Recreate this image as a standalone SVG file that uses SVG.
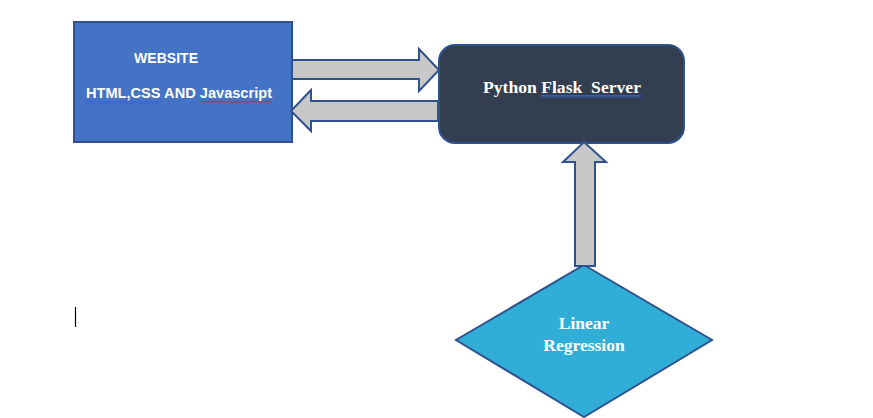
<svg xmlns="http://www.w3.org/2000/svg" width="873" height="418" viewBox="0 0 873 418">
<style>
.arrow{fill:#C8C8C8;stroke:#2F528F;stroke-width:2;stroke-linejoin:miter}
.sans{font-family:"Liberation Sans",Arial,sans-serif;font-weight:bold;fill:#FFFFFF}
.serif{font-family:"Liberation Serif","Times New Roman",serif;font-weight:bold;fill:#FFFFFF}
</style>
<rect width="873" height="418" fill="#FFFFFF"/>
<g id="website">
<rect x="74" y="22" width="218" height="120" fill="#4472C4" stroke="#2F528F" stroke-width="2"/>
<text class="sans" x="166" y="63" font-size="14" text-anchor="middle" textLength="64" lengthAdjust="spacingAndGlyphs">WEBSITE</text>
<text class="sans" x="86" y="98" font-size="15" textLength="186" lengthAdjust="spacingAndGlyphs">HTML,CSS AND Javascript</text>
<line x1="86" y1="101.5" x2="159" y2="101.5" stroke="#3B63D6" stroke-width="0.8"/>
<line x1="86" y1="103" x2="159" y2="103" stroke="#3B63D6" stroke-width="0.8"/>
<polyline points="200,102.5 202,101 204,102.5 206,101 208,102.5 210,101 212,102.5 214,101 216,102.5 218,101 220,102.5 222,101 224,102.5 226,101 228,102.5 230,101 232,102.5 234,101 236,102.5 238,101 240,102.5 242,101 244,102.5 246,101 248,102.5 250,101 252,102.5 254,101 256,102.5 258,101 260,102.5 262,101 264,102.5 266,101 268,102.5 270,101 272,102.5" fill="none" stroke="#D02020" stroke-width="0.8"/>
</g>
<g id="server">
<rect x="439" y="45" width="245" height="98" rx="16" ry="16" fill="#333F50" stroke="#2F528F" stroke-width="2"/>
<text class="serif" x="483" y="93" font-size="16.5" textLength="158" lengthAdjust="spacingAndGlyphs">Python Flask&#160; Server</text>
<line x1="541" y1="95.5" x2="641" y2="95.5" stroke="#3B63D6" stroke-width="0.8"/>
<line x1="541" y1="97" x2="641" y2="97" stroke="#3B63D6" stroke-width="0.8"/>
</g>
<g id="linear-regression">
<polygon points="584,265 712,340 584,417 456,340" fill="#31AED7" stroke="#2F528F" stroke-width="2"/>
<text class="serif" x="584" y="329" font-size="17.5" text-anchor="middle">Linear</text>
<text class="serif" x="584" y="351" font-size="17.5" text-anchor="middle">Regression</text>
</g>
<g id="connectors">
<polygon class="arrow" points="292,60 419,60 419,49 439,70 419,91 419,79 292,79"/>
<polygon class="arrow" points="438,101 311,101 311,90 291,111 311,131 311,121 438,121"/>
<polygon class="arrow" points="584,142 606,162 595,162 595,266 575,266 575,162 563,162"/>
</g>
<line x1="75.5" y1="307" x2="75.5" y2="327" stroke="#000000" stroke-width="1.2"/>
</svg>
